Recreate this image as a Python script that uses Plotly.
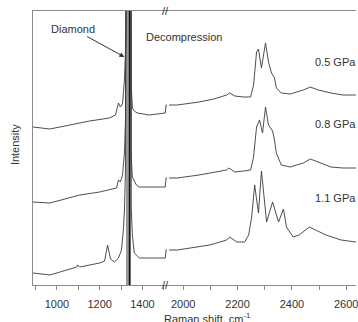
import plotly.graph_objects as go

# ---------------- data (Raman shift in cm-1, intensity in arbitrary units) ----------------
# left segment (below the axis break)
x_left_05 = [888, 967, 1060, 1153, 1246, 1274, 1288, 1297, 1307, 1316, 1323, 1326, 1344, 1348, 1353, 1362, 1376, 1432, 1493, 1507, 1511, 1516]
y_left_05 = [158, 156, 160, 164, 167, 170, 182, 178, 181, 205, 245, 600, 600, 198, 177, 174, 172, 170, 172, 172, 180, 180]

x_left_08 = [888, 967, 1107, 1200, 1279, 1288, 1297, 1307, 1316, 1321, 1326, 1344, 1348, 1353, 1372, 1386, 1493, 1507, 1511, 1516]
y_left_08 = [83, 82, 90, 93, 97, 105, 103, 110, 132, 165, 600, 600, 128, 108, 100, 98, 98, 98, 107, 107]

x_left_11 = [888, 967, 1093, 1097, 1107, 1200, 1223, 1232, 1237, 1242, 1251, 1269, 1288, 1302, 1311, 1316, 1321, 1326, 1344, 1348, 1353, 1362, 1386, 1502, 1507, 1511, 1516]
y_left_11 = [12, 10, 18, 20, 18, 22, 24, 33, 40, 35, 26, 23, 27, 35, 55, 75, 115, 600, 600, 77, 50, 32, 27, 27, 27, 35, 35]

# right segment (above the axis break)
x_right_05 = [1948, 1978, 2058, 2113, 2160, 2171, 2190, 2223, 2248, 2259, 2270, 2277, 2288, 2303, 2314, 2325, 2336, 2343, 2361, 2394, 2442, 2468, 2497, 2544, 2588, 2636]
y_right_05 = [180, 180, 183, 186, 190, 192, 189, 188, 188, 200, 233, 236, 217, 242, 223, 212, 207, 197, 192, 191, 195, 198, 195, 192, 190, 190]

x_right_08 = [1948, 1978, 2058, 2113, 2160, 2168, 2190, 2223, 2248, 2259, 2270, 2281, 2292, 2303, 2314, 2329, 2336, 2343, 2361, 2394, 2442, 2468, 2497, 2544, 2588, 2636]
y_right_08 = [107, 107, 110, 113, 115, 117, 113, 114, 115, 128, 158, 165, 152, 178, 160, 154, 145, 132, 120, 118, 122, 126, 123, 118, 117, 117]

x_right_11 = [1948, 1978, 2098, 2160, 2171, 2197, 2226, 2241, 2252, 2263, 2277, 2288, 2307, 2329, 2351, 2369, 2380, 2405, 2427, 2464, 2526, 2581, 2636]
y_right_11 = [35, 35, 40, 45, 48, 43, 43, 50, 68, 100, 72, 114, 63, 83, 63, 76, 58, 48, 50, 58, 50, 45, 43]

diamond_shift = 1335
diamond_core = 1340
pressures = ["0.5 GPa", "0.8 GPa", "1.1 GPa"]
label_y = [223, 161, 87]
left_ticks = [1000, 1200, 1400]
right_ticks = [2000, 2200, 2400, 2600]
left_range = [888, 1516]
right_range = [1941, 2636]
y_range = [0, 274]

# ---------------- figure ----------------
TXT = "#333333"
AX = "#8a8a8a"
LINE = "#3a3a3a"
FONT = "Liberation Sans, Arial, sans-serif"

fig = go.Figure()

# diamond band
fig.add_trace(go.Scatter(x=[diamond_shift, diamond_shift], y=y_range, mode="lines",
                         line=dict(color="#9a9a9a", width=5), xaxis="x", yaxis="y",
                         showlegend=False, hoverinfo="skip"))
fig.add_trace(go.Scatter(x=[diamond_core, diamond_core], y=y_range, mode="lines",
                         line=dict(color="#111111", width=1.5), xaxis="x", yaxis="y",
                         showlegend=False, hoverinfo="skip"))

for xs, ys in [(x_left_05, y_left_05), (x_left_08, y_left_08), (x_left_11, y_left_11)]:
    fig.add_trace(go.Scatter(x=xs, y=ys, mode="lines", line=dict(color=LINE, width=0.9),
                             xaxis="x", yaxis="y", showlegend=False))
for xs, ys in [(x_right_05, y_right_05), (x_right_08, y_right_08), (x_right_11, y_right_11)]:
    fig.add_trace(go.Scatter(x=xs, y=ys, mode="lines", line=dict(color=LINE, width=0.9),
                             xaxis="x2", yaxis="y", showlegend=False))

split = (168 - 33) / 325.0

axis_common = dict(showline=True, linecolor=AX, linewidth=1, mirror=True,
                   ticks="outside", ticklen=4, tickcolor=AX, showgrid=False, zeroline=False,
                   ticklabelstandoff=5, ticklabeloverflow="allow",
                   tickfont=dict(family=FONT, size=11, color=TXT),
                   minor=dict(dtick=100, ticks="outside", ticklen=4, tickcolor=AX, showgrid=False))

fig.update_layout(
    width=358, height=322,
    margin=dict(l=33, r=0, t=11, b=37),
    paper_bgcolor="white", plot_bgcolor="white",
    font=dict(family=FONT, size=11, color=TXT),
    xaxis=dict(domain=[0, split], range=left_range, tickvals=left_ticks, anchor="y", **axis_common),
    xaxis2=dict(domain=[split, 1], range=right_range, tickvals=right_ticks, anchor="y", **axis_common),
    yaxis=dict(range=y_range, showticklabels=False, ticks="", showline=True, linecolor=AX,
               linewidth=1, showgrid=False, zeroline=False),
)

for p, ly in zip(pressures, label_y):
    fig.add_annotation(x=2560, y=ly, xref="x2", yref="y", text=p, showarrow=False,
                       xanchor="center", yanchor="middle",
                       font=dict(family=FONT, size=11, color=TXT))

fig.add_annotation(x=1316, y=228, xref="x", yref="y", text="Diamond",
                   showarrow=True, ax=-51, ay=-28, arrowhead=2, arrowsize=1, arrowwidth=1,
                   arrowcolor=TXT, font=dict(family=FONT, size=11, color=TXT))
fig.add_annotation(x=(185 - 33) / 325.0, y=(285 - 37) / 274.0, xref="paper", yref="paper",
                   text="Decompression", showarrow=False, xanchor="center", yanchor="middle",
                   font=dict(family=FONT, size=11, color=TXT))
fig.add_annotation(x=(15 - 33) / 325.0, y=(285 - 145) / 274.0, xref="paper", yref="paper",
                   text="Intensity", textangle=-90, showarrow=False,
                   xanchor="center", yanchor="middle",
                   font=dict(family=FONT, size=11, color=TXT))
fig.add_annotation(x=(208 - 33) / 325.0, y=(285 - 309) / 274.0, xref="paper", yref="paper",
                   text="Raman shift, cm<sup>-1</sup>", showarrow=False,
                   xanchor="center", yanchor="top",
                   font=dict(family=FONT, size=11, color=TXT))
for yy in [1.0, 0.0]:
    fig.add_annotation(x=(166 - 33) / 325.0, y=yy, xref="paper", yref="paper", text="//",
                       showarrow=False, xanchor="center", yanchor="middle",
                       font=dict(family=FONT, size=11, color=TXT))

fig.write_html("out.html")
